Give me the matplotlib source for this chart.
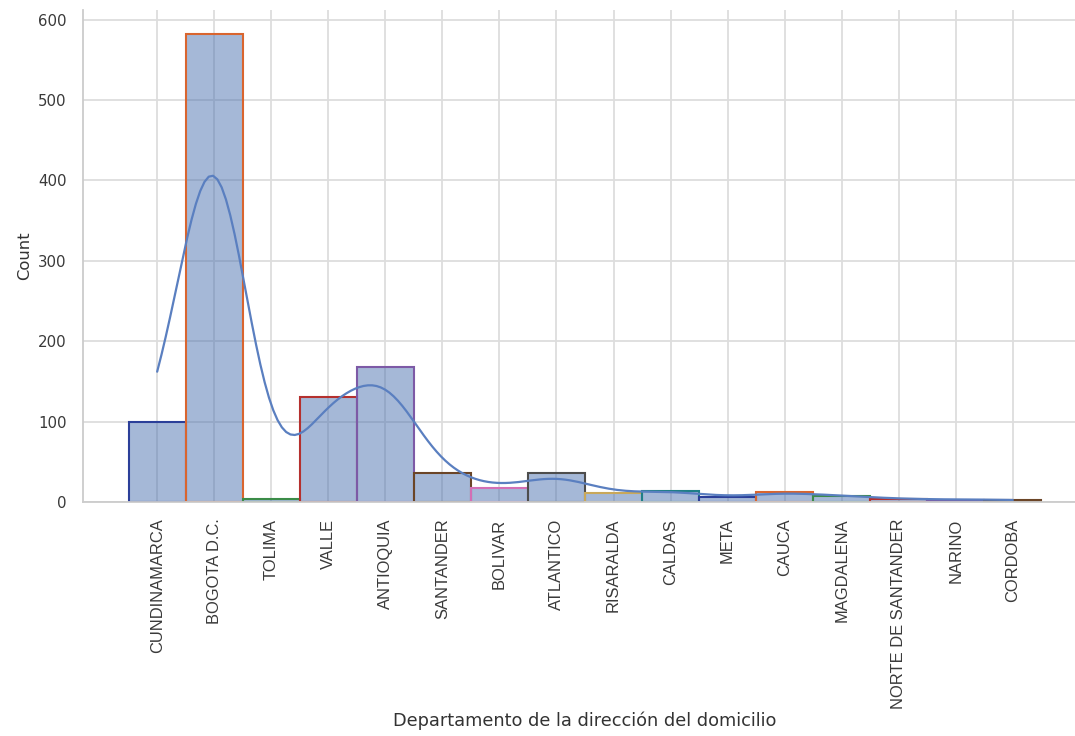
import numpy as np
import seaborn as sns
from matplotlib import pyplot as plt

departamentos = ["CUNDINAMARCA", "BOGOTA D.C.", "TOLIMA", "VALLE", "ANTIOQUIA",
                 "SANTANDER", "BOLIVAR", "ATLANTICO", "RISARALDA", "CALDAS",
                 "META", "CAUCA", "MAGDALENA", "NORTE DE SANTANDER", "NARINO", "CORDOBA"]
conteos = [99, 582, 4, 131, 168, 36, 17, 36, 11, 14, 6, 12, 8, 4, 3, 3]

bordes = ["#2b3f99", "#d9652f", "#3b8c48", "#b5302e", "#7d5aa6",
          "#6b4527", "#d36fb5", "#4d4d4d", "#c9a85a", "#1f7f86"]

sns.set_theme(style="whitegrid")
plt.rcParams["font.family"] = ["DejaVu Sans"]

fig = plt.figure(figsize=(10.75, 7.36), dpi=100)
ax = fig.add_axes([83 / 1075, 234 / 736, (1087 - 83) / 1075, 492 / 736])

codigos = np.repeat(np.arange(len(departamentos)), conteos)
sns.histplot(x=codigos, discrete=True, kde=True, kde_kws={"bw_adjust": 0.94},
             ax=ax, color="#4c72b0", alpha=0.5)

for i, p in enumerate(ax.patches):
    p.set_edgecolor(bordes[i % len(bordes)])
    p.set_linewidth(1.5)
    p.set_alpha(None)
    p.set_facecolor((0.298, 0.447, 0.690, 0.5))
for ln in ax.lines:
    ln.set_linewidth(1.6)
    ln.set_color("#5a7fc0")

ax.set_xlim(-1.3, 16.3)
ax.set_ylim(0, 612)
ax.set_xticks(np.arange(len(departamentos)))
ax.set_xticklabels(departamentos, rotation=90, family=["Liberation Sans", "DejaVu Sans"], fontsize=11.9)
ax.tick_params(axis="x", pad=6, colors="#3a3a3a")
ax.tick_params(axis="y", pad=6, labelsize=10.8, colors="#3a3a3a")
ax.set_xlabel("Departamento de la dirección del domicilio", fontsize=12.8, color="#333333", labelpad=2)
ax.set_ylabel("Count", fontsize=11.8, color="#333333")
ax.grid(True, color="#dddddd", linewidth=1.3)
sns.despine(ax=ax)
for s in ["left", "bottom"]:
    ax.spines[s].set_color("#cccccc")
    ax.spines[s].set_linewidth(1.3)

fig.savefig("out.png", dpi=100)
